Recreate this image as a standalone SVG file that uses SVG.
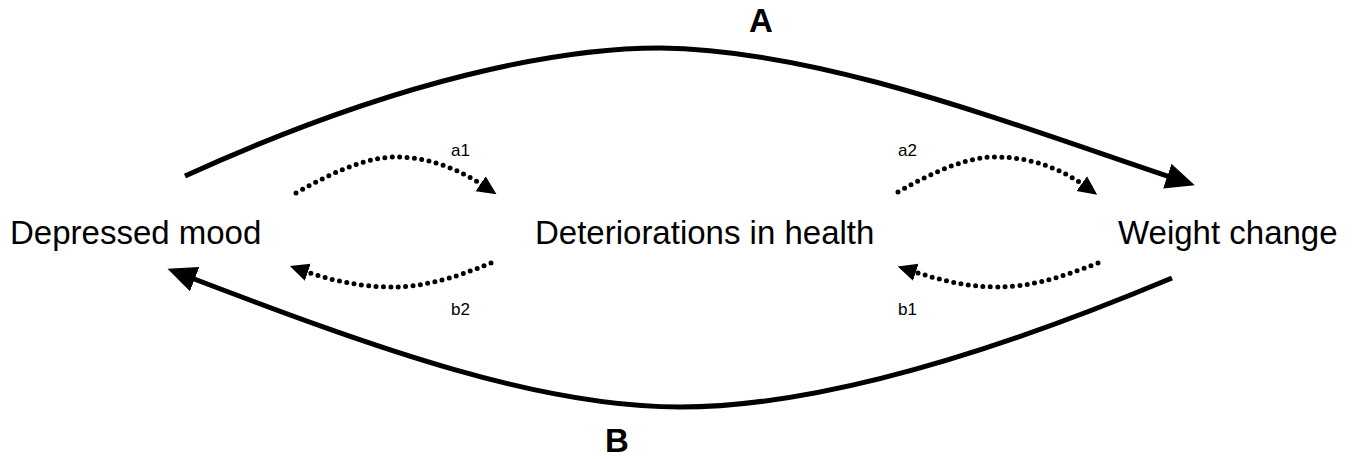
<svg xmlns="http://www.w3.org/2000/svg" width="1359" height="459" viewBox="0 0 1359 459">
<style>
.node{font-family:"Liberation Sans",Arial,sans-serif;font-size:33px;fill:#000}
.big{font-family:"Liberation Sans",Arial,sans-serif;font-size:33px;font-weight:bold;fill:#000}
.lab{font-family:"Liberation Sans",Arial,sans-serif;font-size:17px;fill:#000}
.solid{fill:none;stroke:#000;stroke-width:5}
.dot{fill:none;stroke:#000;stroke-width:5;stroke-linecap:round;stroke-dasharray:0 7.4}
</style>
<defs>
<marker id="bigArrow" markerUnits="userSpaceOnUse" markerWidth="30" markerHeight="26" viewBox="0 0 30 26" refX="6" refY="13" orient="auto">
<path d="M0,0 L29,13 L0,26 z" fill="#000"/>
</marker>
<marker id="smallArrow" markerUnits="userSpaceOnUse" markerWidth="20" markerHeight="20" viewBox="0 0 20 20" refX="4" refY="10" orient="auto">
<path d="M0,1 L19,10 L0,19 z" fill="#000"/>
</marker>
</defs>
<rect width="1359" height="459" fill="#fff"/>
<g id="node-depressed"><text class="node" x="10" y="244">Depressed mood</text></g>
<g id="node-health"><text class="node" x="535" y="244">Deteriorations in health</text></g>
<g id="node-weight"><text class="node" x="1118" y="244">Weight change</text></g>
<g id="connectors">
<path id="A" class="solid" d="M185,176 C 400,78 560,48 660,48 C 820,50 1000,120 1173,178" marker-end="url(#bigArrow)"/>
<path id="B" class="solid" d="M1172,278 C 1000,350 820,407 680,407 C 540,407 380,350 189,277" marker-end="url(#bigArrow)"/>
<path id="a1" class="dot" d="M296,193 C 340,168 370,157 396,157 C 430,157 460,170 484,186" marker-end="url(#smallArrow)"/>
<path id="b2" class="dot" d="M491,263 C 450,280 420,287 392,287 C 360,287 330,280 304,271" marker-end="url(#smallArrow)"/>
<path id="a2" class="dot" d="M898,192 C 940,168 970,157 995,157 C 1030,157 1060,168 1085,186" marker-end="url(#smallArrow)"/>
<path id="b1" class="dot" d="M1098,263 C 1055,280 1025,287 998,287 C 966,287 940,280 912,271" marker-end="url(#smallArrow)"/>
</g>
<text class="big" x="749" y="32">A</text>
<text class="big" x="605" y="452">B</text>
<text class="lab" x="451" y="156">a1</text>
<text class="lab" x="898" y="156">a2</text>
<text class="lab" x="451" y="315">b2</text>
<text class="lab" x="898" y="315">b1</text>
</svg>
